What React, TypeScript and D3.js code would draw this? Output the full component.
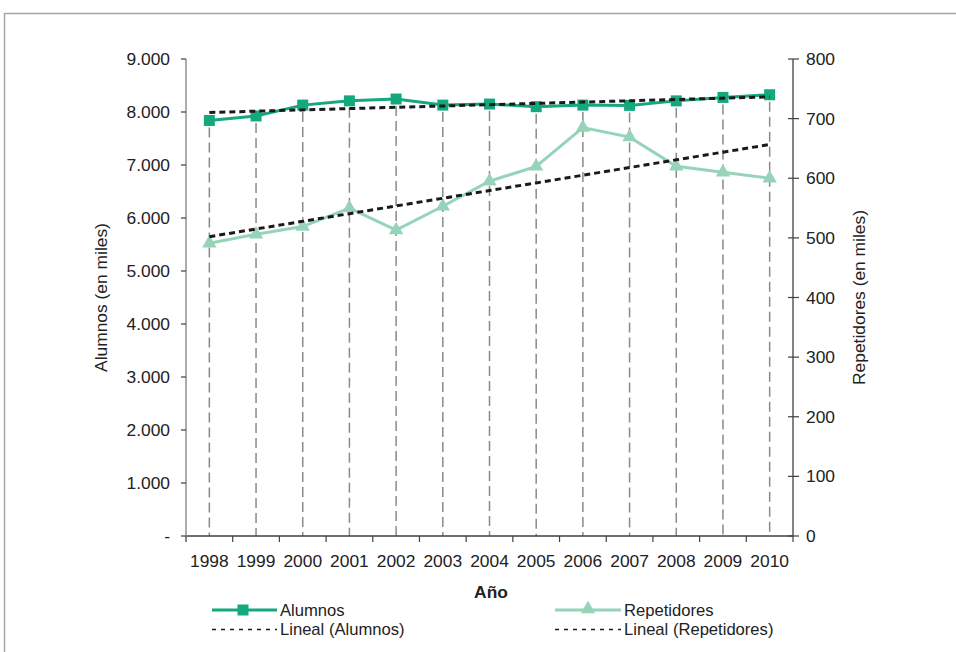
import React from "react";
import * as d3 from "d3";

const years = ["1998","1999","2000","2001","2002","2003","2004","2005","2006","2007","2008","2009","2010"];
const alumnos = [7840, 7925, 8130, 8210, 8245, 8130, 8150, 8100, 8130, 8125, 8210, 8275, 8325];
const repetidores = [491, 506, 519, 550, 513, 553, 595, 620, 685, 669, 620, 610, 600];
const leftTicks = [0, 1000, 2000, 3000, 4000, 5000, 6000, 7000, 8000, 9000];
const rightTicks = [0, 100, 200, 300, 400, 500, 600, 700, 800];

const W = 956, H = 652;
const X0 = 186, X1 = 793, Y0 = 536, Y1 = 59;
const C_AL = "#14a87e";
const C_RE = "#96d4ba";
const FONT = "'Liberation Sans', Arial, sans-serif";
const FS = 17.4;
const LFS = 16.6;
const R1 = 610, R2 = 629.5;

const locale = d3.formatLocale({ decimal: ",", thousands: ".", grouping: [3], currency: ["", ""] });
const fmtL = (v: number) => (v === 0 ? "-" : locale.format(",")(v));

function trend(vals: number[]) {
  const n = vals.length;
  const xs = d3.range(n);
  const mx = d3.mean(xs)!;
  const my = d3.mean(vals)!;
  const num = d3.sum(xs, (x, i) => (x - mx) * (vals[i] - my));
  const den = d3.sum(xs, (x) => (x - mx) * (x - mx));
  const b = num / den;
  const a = my - b * mx;
  return xs.map((x) => a + b * x);
}

export default function App() {
  const x = d3.scaleBand<string>().domain(years).range([X0, X1]).padding(0);
  const cx = (y: string) => (x(y) as number) + x.bandwidth() / 2;
  const yL = d3.scaleLinear().domain([0, 9000]).range([Y0, Y1]);
  const yR = d3.scaleLinear().domain([0, 800]).range([Y0, Y1]);

  const lineL = d3.line<number>().x((_, i) => cx(years[i])).y((d) => yL(d));
  const lineR = d3.line<number>().x((_, i) => cx(years[i])).y((d) => yR(d));
  const trL = trend(alumnos);
  const trR = trend(repetidores);
  const tri = d3.symbol().type(d3.symbolTriangle).size(90)();
  const boundaries = years.map((y) => x(y) as number).concat([X1]);

  return (
    <svg width={W} height={H} style={{ position: "absolute", left: 0, top: 0, background: "#fff" }} fontFamily={FONT}>
      <rect x={0} y={0} width={W} height={H} fill="#fff" />
      {/* frame */}
      <path d={`M4.5,${H + 2} V13.5 H${W + 2}`} fill="none" stroke="#a6a6a6" strokeWidth={1.5} />

      {/* drop lines */}
      {years.map((yr, i) => (
        <line key={"d" + yr} x1={cx(yr)} x2={cx(yr)} y1={yL(alumnos[i]) + 7} y2={Y0}
          stroke="#8a8a8a" strokeWidth={1.5} strokeDasharray="10,5" />
      ))}

      {/* axes */}
      <line x1={X0} x2={X1} y1={Y0} y2={Y0} stroke="#404040" strokeWidth={1.3} />
      {boundaries.map((b, i) => (
        <line key={"xt" + i} x1={b} x2={b} y1={Y0} y2={Y0 + 6} stroke="#404040" strokeWidth={1.2} />
      ))}
      <line x1={X0} x2={X0} y1={Y1} y2={Y0 + 6} stroke="#808080" strokeWidth={1.3} />
      {leftTicks.map((t) => (
        <g key={"lt" + t}>
          <line x1={X0 - 5} x2={X0} y1={yL(t)} y2={yL(t)} stroke="#404040" strokeWidth={1.2} />
          <text x={170} y={yL(t)} dy="0.35em" textAnchor="end" fontSize={FS} fill="#222">{fmtL(t)}</text>
        </g>
      ))}
      <line x1={X1} x2={X1} y1={Y1} y2={Y0} stroke="#404040" strokeWidth={1.3} />
      {rightTicks.map((t) => (
        <g key={"rt" + t}>
          <line x1={X1 - 5} x2={X1 + 6} y1={yR(t)} y2={yR(t)} stroke="#404040" strokeWidth={1.2} />
          <text x={806} y={yR(t)} dy="0.35em" textAnchor="start" fontSize={FS} fill="#222">{t}</text>
        </g>
      ))}
      {years.map((yr) => (
        <text key={"xl" + yr} x={cx(yr)} y={561} dy="0.35em" textAnchor="middle" fontSize={FS} fill="#222">{yr}</text>
      ))}
      <text x={491} y={592} dy="0.35em" textAnchor="middle" fontSize={FS} fontWeight="bold" fill="#222">Año</text>
      <text transform={`translate(101,${(Y0 + Y1) / 2}) rotate(-90)`} textAnchor="middle" dy="0.35em" fontSize={FS} fill="#222">Alumnos (en miles)</text>
      <text transform={`translate(859,${(Y0 + Y1) / 2}) rotate(-90)`} textAnchor="middle" dy="0.35em" fontSize={FS} fill="#222">Repetidores (en miles)</text>

      {/* series */}
      <path d={lineR(repetidores)!} fill="none" stroke={C_RE} strokeWidth={3} />
      {repetidores.map((v, i) => (
        <path key={"tr" + i} d={tri!} transform={`translate(${cx(years[i])},${yR(v)})`} fill={C_RE} />
      ))}
      <path d={lineL(alumnos)!} fill="none" stroke={C_AL} strokeWidth={3} />
      {alumnos.map((v, i) => (
        <rect key={"sq" + i} x={cx(years[i]) - 5.5} y={yL(v) - 5.5} width={11} height={11} fill={C_AL} />
      ))}
      <path d={lineR(trR)!} fill="none" stroke="#1a1a1a" strokeWidth={3} strokeDasharray="6,4" />
      <path d={lineL(trL)!} fill="none" stroke="#1a1a1a" strokeWidth={3} strokeDasharray="6,4" />

      {/* legend */}
      <line x1={212} x2={277} y1={R1} y2={R1} stroke={C_AL} strokeWidth={3} />
      <rect x={237.5} y={R1 - 5.5} width={11} height={11} fill={C_AL} />
      <text x={280} y={R1} dy="0.35em" fontSize={LFS} fill="#222">Alumnos</text>
      <line x1={212} x2={277} y1={R2} y2={R2} stroke="#1a1a1a" strokeWidth={1.6} strokeDasharray="4,5" />
      <text x={280} y={R2} dy="0.35em" fontSize={LFS} fill="#222">Lineal (Alumnos)</text>

      <line x1={555} x2={621} y1={R1} y2={R1} stroke={C_RE} strokeWidth={3} />
      <path d={tri!} transform={`translate(588,${R1 - 1})`} fill={C_RE} />
      <text x={624} y={R1} dy="0.35em" fontSize={LFS} fill="#222">Repetidores</text>
      <line x1={555} x2={621} y1={R2} y2={R2} stroke="#1a1a1a" strokeWidth={1.6} strokeDasharray="4,5" />
      <text x={624} y={R2} dy="0.35em" fontSize={LFS} fill="#222">Lineal (Repetidores)</text>
    </svg>
  );
}
